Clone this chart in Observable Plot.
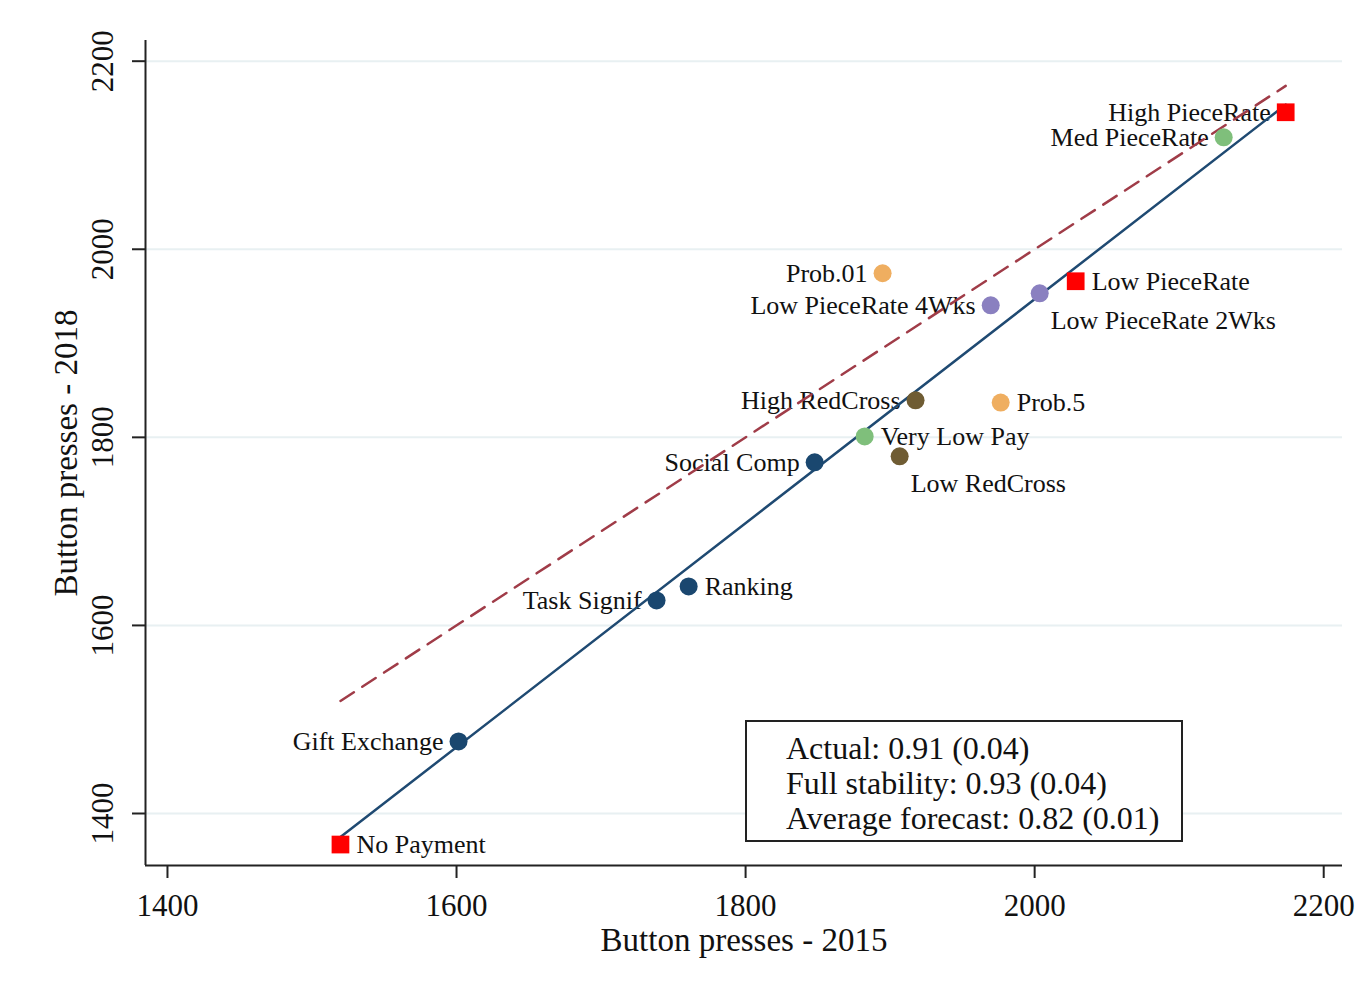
<!DOCTYPE html>
<html>
<head>
<meta charset="utf-8">
<script src="https://cdn.jsdelivr.net/npm/d3@7"></script>
<script src="https://cdn.jsdelivr.net/npm/@observablehq/plot@0.6"></script>
<style>
  html, body { margin: 0; padding: 0; background: #fff; }
  #wrap { position: relative; width: 1368px; height: 989px; font-family: "Liberation Serif", "DejaVu Serif", serif; color: #111; }
  #box { position: absolute; left: 745px; top: 720px; width: 434px; border: 2px solid #222; background: #fff;
         box-sizing: content-box; padding: 0; font-size: 32px; line-height: 35px; }
  #box div { padding-left: 39px; white-space: nowrap; }
</style>
</head>
<body>
<div id="wrap"><div id="chart"></div><div id="box"></div></div>
<script>
// Treatments: names, button presses 2015 (x), 2018 (y), treatment group, label clock position
const labels = ["No Payment","Gift Exchange","Task Signif","Ranking","Social Comp","Very Low Pay","Low RedCross","High RedCross","Prob.5","Prob.01","Low PieceRate 4Wks","Low PieceRate 2Wks","Low PieceRate","Med PieceRate","High PieceRate"];
const presses2015 = [1519.7,1601.4,1738.4,1760.6,1847.8,1882.4,1906.6,1917.6,1976.5,1894.8,1969.6,2003.5,2028.4,2130.8,2173.7];
const presses2018 = [1367.0,1476.6,1626.6,1641.5,1773.4,1801.0,1779.8,1839.4,1837.0,1974.5,1940.4,1953.2,1966.0,2119.0,2145.7];
const group = ["Piece rate","Psychology","Psychology","Psychology","Psychology","Pay level","Charity","Charity","Probability","Probability","Time delay","Time delay","Piece rate","Pay level","Piece rate"];
const labelPos = [3,9,9,3,9,3,5,9,3,9,9,5,3,9,9];

const groupNames = ["Piece rate","Psychology","Pay level","Charity","Probability","Time delay"];
const groupColors = ["#ff0000","#1a476f","#7fbf7b","#6f5c33","#efae60","#8a80c0"];

const xTicks = [1400,1600,1800,2000,2200];
const yTicks = [1400,1600,1800,2000,2200];
const xTitle = "Button presses - 2015";
const yTitle = "Button presses - 2018";
const boxLines = ["Actual: 0.91 (0.04)","Full stability: 0.93 (0.04)","Average forecast: 0.82 (0.01)"];

const rows = labels.map((l, i) => ({label: l, x: presses2015[i], y: presses2018[i], group: group[i], pos: labelPos[i]}));
const xDomain = [1384.8, 2213];
const yDomain = [1344.7, 2222];
const fs = 26;

const chart = Plot.plot({
  width: 1368, height: 989,
  marginTop: 40, marginRight: 26, marginBottom: 124, marginLeft: 145,
  style: {fontFamily: '"Liberation Serif", "DejaVu Serif", serif', color: "#111", background: "#fff"},
  x: {domain: xDomain, axis: null},
  y: {domain: yDomain, axis: null},
  color: {domain: groupNames, range: groupColors},
  marks: [
    Plot.ruleY(yTicks, {stroke: "#e8f0f2", strokeWidth: 2}),
    Plot.ruleX([xDomain[0]], {stroke: "#222", strokeWidth: 2}),
    Plot.ruleY([yDomain[0]], {stroke: "#222", strokeWidth: 2}),
    Plot.axisX({ticks: xTicks, tickSize: 13, tickFormat: () => "", label: null, stroke: "#222", strokeWidth: 2}),
    Plot.axisY({ticks: yTicks, tickSize: 13, tickFormat: () => "", label: null, stroke: "#222", strokeWidth: 2}),
    Plot.text(xTicks, {x: d => d, frameAnchor: "bottom", lineAnchor: "middle", dy: 41, text: d => String(d), fontSize: 31}),
    Plot.text(yTicks, {y: d => d, frameAnchor: "left", textAnchor: "middle", lineAnchor: "middle", dx: -42, rotate: -90, text: d => String(d), fontSize: 31}),
    Plot.text([xTitle], {frameAnchor: "bottom", lineAnchor: "middle", dy: 75, text: d => d, fontSize: 33}),
    Plot.text([yTitle], {frameAnchor: "left", textAnchor: "middle", lineAnchor: "middle", dx: -79, rotate: -90, text: d => d, fontSize: 33}),
    Plot.text(rows.filter(d => d.pos === 3), {x: "x", y: "y", text: "label", textAnchor: "start", dx: 16, fontSize: fs}),
    Plot.text(rows.filter(d => d.pos === 9), {x: "x", y: "y", text: "label", textAnchor: "end", dx: -15, fontSize: fs}),
    Plot.text(rows.filter(d => d.pos === 5), {x: "x", y: "y", text: "label", textAnchor: "start", dx: 11, dy: 27, fontSize: fs}),
    Plot.linearRegressionY(rows, {x: "x", y: "y", stroke: "#1f4a72", strokeWidth: 2.5, ci: 0}),
    Plot.line(d3.extent(presses2015), {x: d => d, y: d => d, stroke: "#a03c48", strokeWidth: 2.5, strokeDasharray: "16,10"}),
    Plot.dot(rows.filter(d => d.group !== "Piece rate"), {x: "x", y: "y", fill: "group", r: 9, symbol: "circle"}),
    Plot.dot(rows.filter(d => d.group === "Piece rate"), {x: "x", y: "y", fill: "group", r: 10, symbol: "square"})
  ]
});
document.getElementById("chart").appendChild(chart);
const box = document.getElementById("box");
box.style.paddingTop = "9px";
box.style.height = "109px";
boxLines.forEach(t => { const d = document.createElement("div"); d.textContent = t; box.appendChild(d); });
</script>
</body>
</html>
